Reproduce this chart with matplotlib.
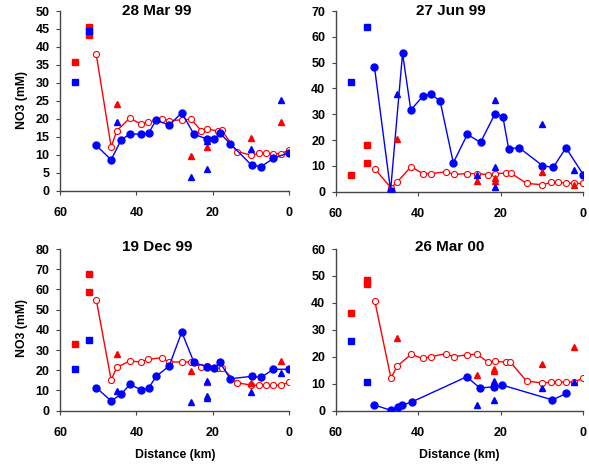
import matplotlib
matplotlib.use("Agg")
import matplotlib.pyplot as plt

plt.rcParams['font.family'] = ['Liberation Sans', 'DejaVu Sans']
plt.rcParams['font.weight'] = 'bold'

BLUE = '#0000ff'
RED = '#ff0000'

# sampling stations (km from mouth)
red_km = [50.5, 46.6, 45.1, 41.7, 38.9, 36.9, 33.3, 31.4, 28.1, 25.7, 23.0,
          21.4, 18.7, 17.6, 13.7, 9.9, 7.8, 6.1, 4.1, 2.2, 0.0]
blue_km = [50.5, 46.6, 44.0, 41.7, 38.8, 36.8, 34.8, 31.4, 28.1, 24.9, 21.5,
           19.6, 18.1, 15.4, 9.8, 7.3, 4.1, 0.0]
square_km = [56.2, 52.3]
tri_km = [45.1, 25.7, 21.5, 9.9, 2.2]

# 28 Mar 99
mar99_red = [37.9, 12.2, 16.7, 20.2, 18.6, 19.0, 19.9, 19.5, 19.7, 19.9, 16.7,
             17.2, 16.6, 16.8, 10.9, 9.9, 10.4, 10.4, 10.3, 10.3, 11.3]
mar99_blue = [12.6, 8.6, 14.1, 15.8, 15.7, 16.0, 19.7, 18.2, 21.7, 15.7, 14.4,
              14.4, 16.0, 13.1, 7.1, 6.7, 9.0, 10.6]
mar99_sq_red = [[35.7], [45.6, 43.2]]
mar99_sq_blue = [[30.3], [44.3]]
mar99_tri_red = [[24.1], [9.7], [12.2], [14.8], [19.0]]
mar99_tri_blue = [[19.2], [3.7], [6.0, 13.9], [11.6], [25.2]]

# 27 Jun 99
jun99_red = [8.8, 1.5, 3.8, 9.7, 7.0, 7.0, 7.7, 6.7, 7.0, 7.0, 6.6,
             7.0, 7.2, 7.2, 3.2, 2.7, 3.6, 3.6, 3.4, 3.2, 3.2]
jun99_blue = [48.3, 0.4, 53.6, 31.6, 37.2, 37.7, 35.1, 11.2, 22.2, 19.1, 30.2,
              29.1, 16.7, 17.0, 10.1, 9.4, 17.0, 6.6]
jun99_blue_km = [50.6, 46.7, 43.8, 41.8, 38.8, 36.8, 34.7, 31.5, 28.1, 24.9, 21.4,
                 19.5, 18.1, 15.5, 9.9, 7.3, 4.2, 0.0]
jun99_sq_red = [[6.6], [18.2, 11.0]]
jun99_sq_blue = [[42.5], [63.9]]
jun99_tri_red = [[20.3], [4.1], [5.2, 4.1], [7.5], [2.6]]
jun99_tri_blue = [[37.7], [6.3], [35.5, 9.5, 1.7], [26.2], [8.3]]

# 19 Dec 99
dec99_red = [54.9, 15.2, 21.5, 24.6, 24.1, 25.4, 26.2, 24.1, 24.1, 24.1, 21.6,
             22.3, 21.3, 21.3, 13.9, 12.6, 12.6, 12.6, 12.6, 12.6, 14.0]
dec99_blue = [11.4, 4.8, 8.1, 13.0, 10.4, 11.1, 17.0, 22.1, 38.9, 23.9, 21.6,
              21.0, 23.9, 15.8, 17.0, 16.5, 20.5, 20.5]
dec99_sq_red = [[32.8], [67.5, 58.6]]
dec99_sq_blue = [[20.5], [34.8]]
dec99_tri_red = [[28.2], [19.6], [14.4], [13.7], [24.6]]
dec99_tri_blue = [[9.9], [4.5], [14.7, 7.4, 6.4], [9.4], [18.8]]

# 26 Mar 00
mar00_red = [40.6, 12.1, 16.5, 20.9, 19.4, 20.0, 21.2, 20.0, 20.8, 20.9, 18.0,
             18.3, 18.0, 18.0, 11.0, 10.3, 10.6, 10.6, 10.6, 10.6, 12.1]
mar00_blue_km = [50.6, 46.7, 44.9, 44.0, 41.6, 28.2, 25.0, 21.6, 19.6, 7.4, 4.1]
mar00_blue = [2.1, 0.2, 1.4, 2.0, 3.2, 12.6, 8.4, 8.9, 9.5, 4.0, 6.4]
mar00_sq_red = [[36.4], [48.5, 46.9]]
mar00_sq_blue = [[25.9], [10.5]]
mar00_tri_red = [[26.9], [13.1], [15.4, 14.9], [17.2], [23.8]]
mar00_tri_blue = [[], [2.1], [4.1, 11.1, 10.1], [8.3], [10.8]]

panels = [
    dict(title='28 Mar 99', red=mar99_red, blue=mar99_blue, blue_km=blue_km,
         sq_red=mar99_sq_red, sq_blue=mar99_sq_blue,
         tri_red=mar99_tri_red, tri_blue=mar99_tri_blue, ymax=50, ystep=5,
         box=(60, 289, 11, 190.7), title_xy=(157, 11)),
    dict(title='27 Jun 99', red=jun99_red, blue=jun99_blue, blue_km=jun99_blue_km,
         sq_red=jun99_sq_red, sq_blue=jun99_sq_blue,
         tri_red=jun99_tri_red, tri_blue=jun99_tri_blue, ymax=70, ystep=10,
         box=(335.7, 583.3, 11, 191.7), title_xy=(451, 11)),
    dict(title='19 Dec 99', red=dec99_red, blue=dec99_blue, blue_km=blue_km,
         sq_red=dec99_sq_red, sq_blue=dec99_sq_blue,
         tri_red=dec99_tri_red, tri_blue=dec99_tri_blue, ymax=80, ystep=10,
         box=(60, 289, 249, 410.7), title_xy=(157, 247)),
    dict(title='26 Mar 00', red=mar00_red, blue=mar00_blue, blue_km=mar00_blue_km,
         sq_red=mar00_sq_red, sq_blue=mar00_sq_blue,
         tri_red=mar00_tri_red, tri_blue=mar00_tri_blue, ymax=60, ystep=10,
         box=(335.7, 583, 249, 410.7), title_xy=(450, 247)),
]

W, H = 589, 467
fig = plt.figure(figsize=(W / 100, H / 100), dpi=100)


def scatter_groups(ax, kms, groups, marker, color, size):
    for km, vals in zip(kms, groups):
        if vals:
            ax.plot([km] * len(vals), vals, linestyle='none', marker=marker,
                    color=color, markersize=size, zorder=5)


for p in panels:
    x0, x1, y0, y1 = p['box']
    ax = fig.add_axes([x0 / W, 1 - y1 / H, (x1 - x0) / W, (y1 - y0) / H])
    ax.plot(red_km, p['red'], color=RED, lw=1, marker='o', markersize=4.4,
            markerfacecolor='white', markeredgecolor=RED, markeredgewidth=0.8,
            zorder=3)
    ax.plot(p['blue_km'], p['blue'], color=BLUE, lw=1, marker='o', markersize=5,
            markerfacecolor=BLUE, markeredgecolor=BLUE, zorder=4)
    scatter_groups(ax, square_km, p['sq_red'], 's', RED, 4.2)
    scatter_groups(ax, square_km, p['sq_blue'], 's', BLUE, 4.2)
    scatter_groups(ax, tri_km, p['tri_red'], '^', RED, 5)
    scatter_groups(ax, tri_km, p['tri_blue'], '^', BLUE, 5)

    ax.set_xlim(60, 0)
    ax.set_ylim(0, p['ymax'])
    ax.set_xticks([60, 40, 20, 0])
    ax.set_yticks(range(0, p['ymax'] + 1, p['ystep']))
    for s in ('top', 'right'):
        ax.spines[s].set_visible(False)
    for s in ('left', 'bottom'):
        ax.spines[s].set_color('#444444')
        ax.spines[s].set_linewidth(1)
    ax.tick_params(axis='both', direction='out', length=3, width=0.8,
                   colors='#444444', labelcolor='black', labelsize=9)
    ax.tick_params(axis='x', pad=9)
    ax.tick_params(axis='y', pad=4.5)
    for lab in ax.get_xticklabels() + ax.get_yticklabels():
        lab.set_fontweight('bold')

    tx, ty = p['title_xy']
    fig.text(tx / W, 1 - ty / H, p['title'], ha='center', va='center',
             fontsize=11, fontweight='bold')

for y in (100, 328):
    fig.text(22 / W, 1 - y / H, 'NO3 (mM)', rotation=90, ha='center',
             va='center', fontsize=8.8, fontweight='bold')
for x in (175, 459):
    fig.text(x / W, 1 - 455 / H, 'Distance (km)', ha='center', va='center',
             fontsize=8.8, fontweight='bold')

fig.savefig('out.png', dpi=100)
